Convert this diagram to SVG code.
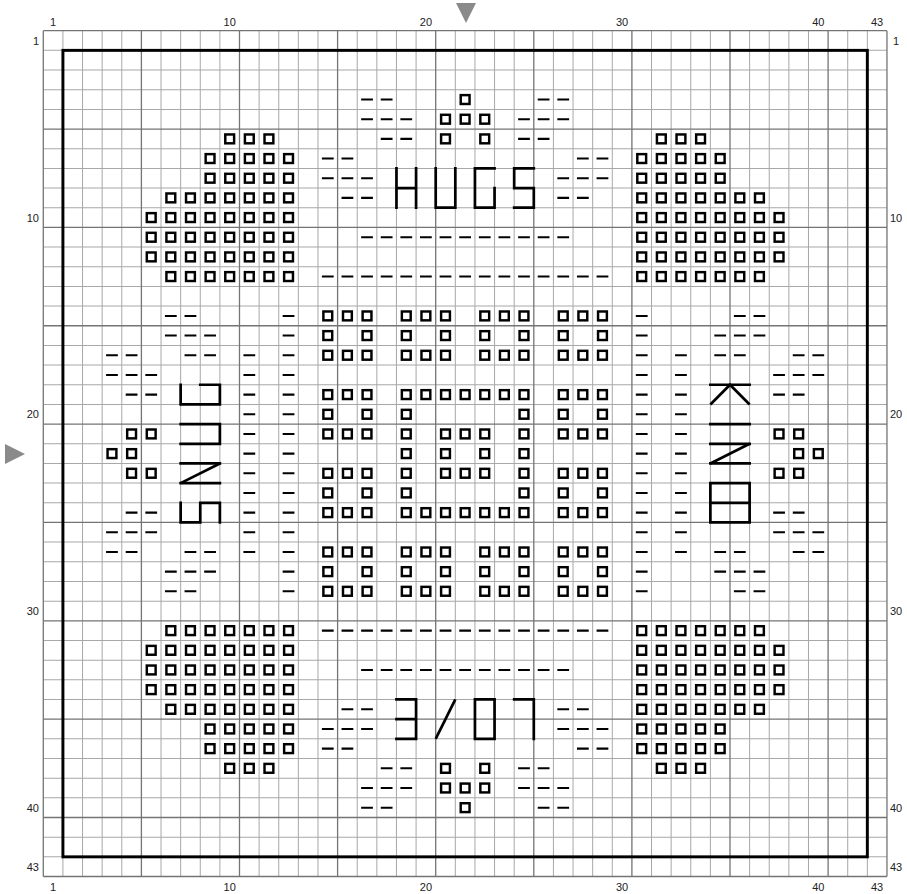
<svg xmlns="http://www.w3.org/2000/svg" xmlns:xlink="http://www.w3.org/1999/xlink" width="907" height="894" viewBox="0 0 907 894">
<style>
.mn{stroke:#a8a8a8;stroke-width:.051;fill:none}
.mj{stroke:#747474;stroke-width:.066;fill:none}
.sq{fill:none;stroke:#000;stroke-width:.125}
.dr{stroke:#000;stroke-width:.105;stroke-dasharray:.6 .4;fill:none}
.dv{stroke:#000;stroke-width:.6;stroke-dasharray:.105 .895;fill:none}
.lt{fill:none;stroke:#000;stroke-width:.138;stroke-linecap:square;stroke-linejoin:miter}
.lb{font-family:"Liberation Sans",Arial,Helvetica,sans-serif;font-size:11px;fill:#222}
.mk{fill:#8a8a8a}
</style>
<defs>
<rect id="q" x=".275" y=".275" width=".45" height=".45" class="sq"/>
<g id="q3"><use href="#q"/><use href="#q" x="1"/><use href="#q" x="2"/></g>
<g id="q5"><use href="#q3"/><use href="#q" x="3"/><use href="#q" x="4"/></g>
<g id="q7"><use href="#q5"/><use href="#q" x="5"/><use href="#q" x="6"/></g>
<g id="q8"><use href="#q7"/><use href="#q" x="7"/></g>
<g id="o"><use href="#q3"/><use href="#q" y="1"/><use href="#q" x="2" y="1"/><use href="#q3" y="2"/></g>
<g id="r7"><use href="#q7"/><use href="#q7" y="6"/><use href="#q" y="1"/><use href="#q" y="2"/><use href="#q" y="3"/><use href="#q" y="4"/><use href="#q" y="5"/><use href="#q" x="6" y="1"/><use href="#q" x="6" y="2"/><use href="#q" x="6" y="3"/><use href="#q" x="6" y="4"/><use href="#q" x="6" y="5"/></g>
<g id="fl"><use href="#q3" x="9" y="5"/><use href="#q5" x="8" y="6"/><use href="#q5" x="8" y="7"/><use href="#q7" x="6" y="8"/><use href="#q8" x="5" y="9"/><use href="#q8" x="5" y="10"/><use href="#q8" x="5" y="11"/><use href="#q7" x="6" y="12"/></g>
</defs>
<rect width="907" height="894" fill="#fff"/>
<g id="chart" transform="translate(43.3 30.7) scale(19.62 19.67)">
<g id="grid">
<path class="mn" d="M1 0V43M2 0V43M3 0V43M4 0V43M6 0V43M7 0V43M8 0V43M9 0V43M11 0V43M12 0V43M13 0V43M14 0V43M16 0V43M17 0V43M18 0V43M19 0V43M21 0V43M22 0V43M23 0V43M24 0V43M26 0V43M27 0V43M28 0V43M29 0V43M31 0V43M32 0V43M33 0V43M34 0V43M36 0V43M37 0V43M38 0V43M39 0V43M41 0V43M42 0V43"/>
<path class="mn" d="M0 1H43M0 2H43M0 3H43M0 4H43M0 6H43M0 7H43M0 8H43M0 9H43M0 11H43M0 12H43M0 13H43M0 14H43M0 16H43M0 17H43M0 18H43M0 19H43M0 21H43M0 22H43M0 23H43M0 24H43M0 26H43M0 27H43M0 28H43M0 29H43M0 31H43M0 32H43M0 33H43M0 34H43M0 36H43M0 37H43M0 38H43M0 39H43M0 41H43M0 42H43"/>
<path class="mj" d="M0 0V43M5 0V43M10 0V43M15 0V43M20 0V43M25 0V43M30 0V43M35 0V43M40 0V43M43 0V43M0 0H43M0 5H43M0 10H43M0 15H43M0 20H43M0 25H43M0 30H43M0 35H43M0 40H43M0 43H43"/>
</g>
<rect id="border" x="1" y="1" width="41" height="41" fill="none" stroke="#000" stroke-width=".15"/>
<g id="flowers">
<use href="#fl"/>
<use href="#fl" transform="matrix(-1 0 0 1 43 0)"/>
<use href="#fl" transform="matrix(1 0 0 -1 0 43)"/>
<use href="#fl" transform="matrix(-1 0 0 -1 43 43)"/>
</g>
<g id="motifs">
<use href="#q" x="21" y="3"/><use href="#q3" x="20" y="4"/><use href="#q" x="20" y="5"/><use href="#q" x="22" y="5"/>
<use href="#q" x="20" y="37"/><use href="#q" x="22" y="37"/><use href="#q3" x="20" y="38"/><use href="#q" x="21" y="39"/>
<use href="#q" x="4" y="20"/><use href="#q" x="5" y="20"/><use href="#q" x="3" y="21"/><use href="#q" x="4" y="21"/><use href="#q" x="4" y="22"/><use href="#q" x="5" y="22"/>
<use href="#q" x="37" y="20"/><use href="#q" x="38" y="20"/><use href="#q" x="38" y="21"/><use href="#q" x="39" y="21"/><use href="#q" x="37" y="22"/><use href="#q" x="38" y="22"/>
</g>
<g id="center">
<use href="#o" x="14" y="14"/><use href="#o" x="18" y="14"/><use href="#o" x="22" y="14"/><use href="#o" x="26" y="14"/>
<use href="#o" x="14" y="18"/><use href="#o" x="26" y="18"/>
<use href="#o" x="14" y="22"/><use href="#o" x="26" y="22"/>
<use href="#o" x="14" y="26"/><use href="#o" x="18" y="26"/><use href="#o" x="22" y="26"/><use href="#o" x="26" y="26"/>
<use href="#r7" x="18" y="18"/><use href="#o" x="20" y="20"/>
</g>
<g id="dashes">
<path class="dr" d="M16.2 3.5H17.8M25.2 3.5H26.8M16.2 4.5H18.8M24.2 4.5H26.8M17.2 5.5H18.8M24.2 5.5H25.8M14.2 6.5H15.8M27.2 6.5H28.8M14.2 7.5H16.8M26.2 7.5H28.8M15.2 8.5H16.8M26.2 8.5H27.8M16.2 10.5H26.8M14.2 12.5H28.8"/>
<path class="dr" d="M14.2 30.5H28.8M16.2 32.5H26.8M15.2 34.5H16.8M26.2 34.5H27.8M14.2 35.5H16.8M26.2 35.5H28.8M14.2 36.5H15.8M27.2 36.5H28.8M17.2 37.5H18.8M24.2 37.5H25.8M16.2 38.5H18.8M24.2 38.5H26.8M16.2 39.5H17.8M25.2 39.5H26.8"/>
<path class="dr" d="M6.2 14.5H7.8M6.2 15.5H8.8M3.2 16.5H4.8M7.2 16.5H8.8M3.2 17.5H5.8M4.2 18.5H5.8M4.2 24.5H5.8M3.2 25.5H5.8M3.2 26.5H4.8M7.2 26.5H8.8M6.2 27.5H8.8M6.2 28.5H7.8"/>
<path class="dr" d="M35.2 14.5H36.8M34.2 15.5H36.8M34.2 16.5H35.8M38.2 16.5H39.8M37.2 17.5H39.8M37.2 18.5H38.8M37.2 24.5H38.8M37.2 25.5H39.8M34.2 26.5H35.8M38.2 26.5H39.8M34.2 27.5H36.8M35.2 28.5H36.8"/>
<path class="dv" d="M12.5 14.4475V28.5525M30.5 14.4475V28.5525M10.5 16.4475V26.5525M32.5 16.4475V26.5525"/>
</g>
<g id="words">
<g id="hugs"><path class="lt" d="M18 7V9M19 7V9M18 8H19M20 7V9H21V7M23 7H22V9H23V8M25 7H24V8H25V9H24"/></g>
<g id="love"><path class="lt" d="M18 34H19V36H18M18 35H19M22 34H23V36H22ZM24 34H25V36"/><path class="lt" style="stroke-linecap:butt" d="M20 36L21 34"/></g>
<g id="snug"><path class="lt" d="M8 18H9V19H7V18M7 20H9V21H7M7 24V25H8V24H9V25M7 22H9M7 23H9"/><path class="lt" style="stroke-linecap:butt" d="M9 22L7 23"/></g>
<g id="kind"><path class="lt" d="M34 18H36M34 20H36M34 21H36M34 22H36M34 23H36V25H34ZM34 24H36"/><path class="lt" style="stroke-linecap:butt" d="M34 19L35 18L36 19M36 21L34 22"/></g>
</g>
</g>
<g id="labels" class="lb">
<g text-anchor="middle">
<text x="53.1" y="26">1</text><text x="229.7" y="26">10</text><text x="425.9" y="26">20</text><text x="622.1" y="26">30</text><text x="818.3" y="26">40</text><text x="877.1" y="26">43</text>
<text x="53.1" y="891">1</text><text x="229.7" y="891">10</text><text x="425.9" y="891">20</text><text x="622.1" y="891">30</text><text x="818.3" y="891">40</text><text x="877.1" y="891">43</text>
<text x="896" y="44.5">1</text><text x="896" y="221.5">10</text><text x="896" y="418.2">20</text><text x="896" y="614.9">30</text><text x="896" y="811.5">40</text><text x="896" y="870.5">43</text>
</g>
<g text-anchor="end">
<text x="39" y="44.5">1</text><text x="39" y="221.5">10</text><text x="39" y="418.2">20</text><text x="39" y="614.9">30</text><text x="39" y="811.5">40</text><text x="39" y="870.5">43</text>
</g>
</g>
<g id="markers">
<polygon class="mk" points="456,3 476,3 466,23"/>
<polygon class="mk" points="5,444 5,464 25,454"/>
</g>
</svg>
